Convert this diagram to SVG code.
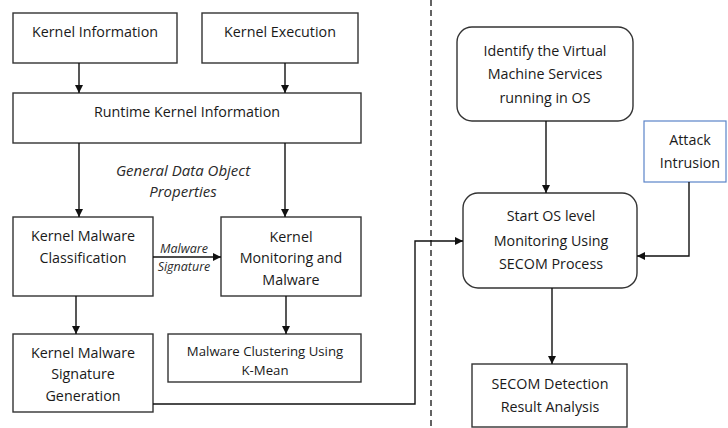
<svg xmlns="http://www.w3.org/2000/svg" width="728" height="428" viewBox="0 0 728 428">
<defs>
<marker id="ah" markerWidth="10" markerHeight="10" refX="9" refY="5" orient="auto" markerUnits="userSpaceOnUse">
<path d="M1,1 L9,5 L1,9 Z" fill="#111"/>
</marker>
<style>
.box{fill:#fff;stroke:#333;stroke-width:1.4}
.blue{fill:#fff;stroke:#5b84c8;stroke-width:1.2}
.t{font-family:"Open Sans","Noto Sans",sans-serif;font-size:14.3px;fill:#1a1a1a;text-anchor:middle;dominant-baseline:central}
.s{font-size:13.2px}
.i{font-family:"Open Sans","Noto Sans",sans-serif;font-style:italic;fill:#2a2a2a;text-anchor:middle;dominant-baseline:central}
.c{fill:none;stroke:#111;stroke-width:1.4}
</style>
</defs>
<rect width="728" height="428" fill="#fff"/>
<line x1="431" y1="0" x2="431" y2="428" stroke="#222" stroke-width="1.4" stroke-dasharray="6,4"/>
<g id="kernel-information"><rect class="box" x="13" y="13" width="164" height="50"/><text class="t" x="95" y="31">Kernel Information</text></g>
<g id="kernel-execution"><rect class="box" x="202" y="13" width="156" height="50"/><text class="t" x="280" y="31">Kernel Execution</text></g>
<g id="runtime"><rect class="box" x="13" y="93" width="348" height="50"/><text class="t" x="187" y="111">Runtime Kernel Information</text></g>
<g id="classification"><rect class="box" x="13" y="217" width="140" height="79"/><text class="t" x="83" y="235">Kernel Malware</text><text class="t" x="83" y="257">Classification</text></g>
<g id="monitoring"><rect class="box" x="221" y="217" width="140" height="79"/><text class="t" x="291" y="236">Kernel</text><text class="t" x="291" y="257">Monitoring and</text><text class="t" x="291" y="279">Malware</text></g>
<g id="signature-generation"><rect class="box" x="13" y="334" width="140" height="78"/><text class="t" x="83" y="352">Kernel Malware</text><text class="t" x="83" y="373">Signature</text><text class="t" x="83" y="395">Generation</text></g>
<g id="clustering"><rect class="box" x="168" y="334" width="193" height="48"/><text class="t s" x="265" y="351">Malware Clustering Using</text><text class="t s" x="265" y="370">K-Mean</text></g>
<g id="identify"><rect class="box" x="457" y="27" width="176" height="94" rx="15"/><text class="t" x="545" y="50">Identify the Virtual</text><text class="t" x="545" y="73">Machine Services</text><text class="t" x="545" y="97">running in OS</text></g>
<g id="attack"><rect class="blue" x="644" y="121" width="82" height="61"/><text class="t" x="690" y="139">Attack</text><text class="t" x="690" y="162">Intrusion</text></g>
<g id="start-os"><rect class="box" x="463" y="193" width="174" height="95" rx="15"/><text class="t" x="551" y="215">Start OS level</text><text class="t" x="551" y="240">Monitoring Using</text><text class="t" x="551" y="263">SECOM Process</text></g>
<g id="secom"><rect class="box" x="472" y="364" width="155" height="63"/><text class="t" x="550" y="383">SECOM Detection</text><text class="t" x="550" y="406">Result Analysis</text></g>
<g id="labels">
<text class="i" x="183" y="170" font-size="15">General Data Object</text>
<text class="i" x="183" y="191" font-size="15">Properties</text>
<text class="i" x="184" y="248" font-size="12.5">Malware</text>
<text class="i" x="184" y="266" font-size="12.5">Signature</text>
</g>
<g id="connectors">
<line class="c" x1="79" y1="63" x2="79" y2="93" marker-end="url(#ah)"/>
<line class="c" x1="285" y1="63" x2="285" y2="93" marker-end="url(#ah)"/>
<line class="c" x1="79" y1="143" x2="79" y2="217" marker-end="url(#ah)"/>
<line class="c" x1="285" y1="143" x2="285" y2="217" marker-end="url(#ah)"/>
<line class="c" x1="153" y1="257" x2="221" y2="257" marker-end="url(#ah)"/>
<line class="c" x1="76" y1="296" x2="76" y2="334" marker-end="url(#ah)"/>
<line class="c" x1="286" y1="296" x2="286" y2="334" marker-end="url(#ah)"/>
<polyline class="c" points="153,404 415,404 415,241 463,241" marker-end="url(#ah)"/>
<line class="c" x1="546" y1="121" x2="546" y2="193" marker-end="url(#ah)"/>
<polyline class="c" points="689,182 689,256 637,256" stroke="#555" marker-end="url(#ah)"/>
<line class="c" x1="552" y1="288" x2="552" y2="364" marker-end="url(#ah)"/>
</g>
</svg>
